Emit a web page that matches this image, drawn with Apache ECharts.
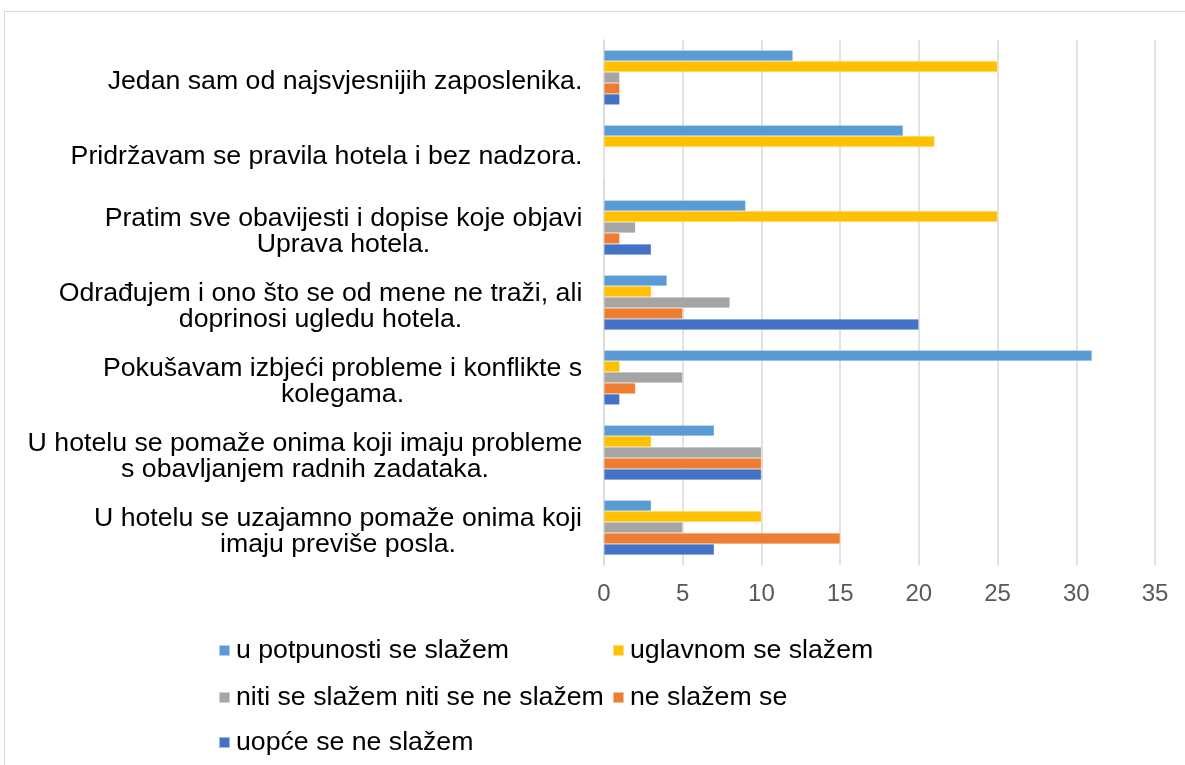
<!DOCTYPE html>
<html>
<head>
<meta charset="utf-8">
<script src="https://cdn.jsdelivr.net/npm/echarts@6/dist/echarts.min.js"></script>
<style>
html,body{margin:0;padding:0;background:#fff;}
#frame{position:absolute;left:4px;top:11px;width:1300px;height:900px;border:1px solid #d9d9d9;box-sizing:border-box;}
#chart{position:absolute;left:0;top:0;width:1185px;height:765px;}
</style>
</head>
<body>
<div id="frame"></div>
<div id="chart"></div>
<script>
const categories = [
  "Jedan sam od najsvjesnijih zaposlenika.",
  "Pridržavam se pravila hotela i bez nadzora.",
  "Pratim sve obavijesti i dopise koje objavi\nUprava hotela.",
  "Odrađujem i ono što se od mene ne traži, ali\ndoprinosi ugledu hotela.",
  "Pokušavam izbjeći probleme i konflikte s\nkolegama.",
  "U hotelu se pomaže onima koji imaju probleme\ns obavljanjem radnih zadataka.",
  "U hotelu se uzajamno pomaže onima koji\nimaju previše posla."
];
const seriesNames = [
  "u potpunosti se slažem",
  "uglavnom se slažem",
  "niti se slažem niti se ne slažem",
  "ne slažem se",
  "uopće se ne slažem"
];
const uPotpunosti = [12, 19, 9, 4, 31, 7, 3];
const uglavnom    = [25, 21, 25, 3, 1, 3, 10];
const niti        = [1, 0, 2, 8, 5, 10, 5];
const neSlazem    = [1, 0, 1, 5, 2, 10, 15];
const uopce       = [1, 0, 3, 20, 1, 10, 7];
const xTicks = [0, 5, 10, 15, 20, 25, 30, 35];

const colors = ["#5B9BD5", "#FFC000", "#A5A5A5", "#ED7D31", "#4472C4"];
const seriesData = [uPotpunosti, uglavnom, niti, neSlazem, uopce];

const LABEL_FONT = 26.7;
const FONT = '"Liberation Sans", Arial, sans-serif';
const ctx = document.createElement('canvas').getContext('2d');
ctx.font = LABEL_FONT + 'px "Liberation Sans"';
const rich = {};
categories.forEach((c, i) => {
  const w = Math.max.apply(null, c.split('\n').map(l => ctx.measureText(l).width));
  rich['c' + i] = {width: Math.ceil(w) + 1, align: 'center', fontSize: LABEL_FONT, lineHeight: 26, color: '#000', fontFamily: FONT};
});

const chart = echarts.init(document.getElementById('chart'), null, {renderer: 'canvas'});

const legendPos = [
  [218, 637], [612, 637], [218, 684], [612, 684], [218, 729]
];
const legends = seriesNames.map((n, i) => ({
  data: [n],
  left: legendPos[i][0],
  top: legendPos[i][1],
  padding: 0,
  itemWidth: 11,
  itemHeight: 11,
  itemGap: 0,
  icon: 'rect',
  selectedMode: false,
  textStyle: {fontSize: 26.7, color: '#000', fontFamily: FONT, padding: [0, 0, 0, 1]}
}));

chart.setOption({
  animation: false,
  color: colors,
  textStyle: {fontFamily: FONT},
  grid: {left: 604, right: 30, top: 40, bottom: 200, containLabel: false},
  legend: legends,
  xAxis: {
    type: 'value',
    min: xTicks[0],
    max: xTicks[xTicks.length - 1],
    interval: 5,
    axisLine: {show: false},
    axisTick: {show: false},
    splitLine: {show: true, lineStyle: {color: '#d9d9d9', width: 1.5}},
    axisLabel: {fontSize: 24, color: '#595959', margin: 17, fontFamily: FONT}
  },
  yAxis: {
    type: 'category',
    data: categories,
    inverse: true,
    axisLine: {show: true, lineStyle: {color: '#d9d9d9', width: 1.5}},
    axisTick: {show: false},
    axisLabel: {
      margin: 21,
      align: 'right',
      padding: [8, 0, 0, 0],
      formatter: function (v, i) {
        return v.split('\n').map(l => '{c' + i + '|' + l + '}').join('\n');
      },
      rich: rich
    }
  },
  series: seriesNames.map((n, i) => ({
    name: n,
    type: 'bar',
    data: seriesData[i],
    barGap: '0%',
    barCategoryGap: '27%',
    itemStyle: {color: colors[i], borderColor: 'rgba(255,255,255,0.5)', borderWidth: 0.5}
  }))
});
</script>
</body>
</html>
